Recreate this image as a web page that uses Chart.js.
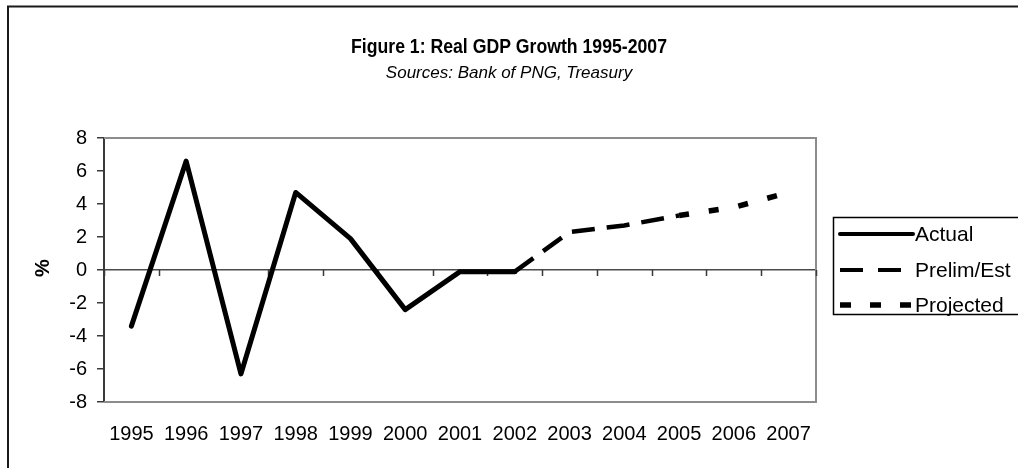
<!DOCTYPE html>
<html>
<head>
<meta charset="utf-8">
<script src="https://cdn.jsdelivr.net/npm/chart.js@4.4.1/dist/chart.umd.min.js"></script>
<style>
  html, body { margin: 0; padding: 0; background: #fff; }
  #wrap { width: 1018px; height: 468px; }
</style>
</head>
<body>
<div id="wrap"><canvas id="c" width="1018" height="468"></canvas></div>
<script>
// Real GDP growth, per cent
const years = ['1995', '1996', '1997', '1998', '1999', '2000', '2001', '2002', '2003', '2004', '2005', '2006', '2007'];
const actual = [-3.4, 6.6, -6.3, 4.7, 1.9, -2.4, -0.1, -0.1, null, null, null, null, null];
const prelimEst = [null, null, null, null, null, null, null, -0.1, 2.3, 2.7, 3.3, null, null];
const projected = [null, null, null, null, null, null, null, null, null, null, 3.3, 3.8, 4.7];
const yTickValues = [-8, -6, -4, -2, 0, 2, 4, 6, 8];

const titleText = 'Figure 1: Real GDP Growth 1995-2007';
const subtitleText = 'Sources: Bank of PNG, Treasury';
const FONT = '"Liberation Sans", Arial, sans-serif';

// Frame, headings, plot border, tick marks on the zero line and the legend box
const decorations = {
  id: 'decorations',
  beforeDatasetsDraw(chart) {
    const { ctx, chartArea: a, scales } = chart;
    ctx.save();
    // plot area outline (top, right, bottom)
    ctx.strokeStyle = '#8c8c8c';
    ctx.lineWidth = 2;
    ctx.beginPath();
    ctx.moveTo(a.left, a.top); ctx.lineTo(a.right, a.top);
    ctx.lineTo(a.right, a.bottom); ctx.lineTo(a.left, a.bottom);
    ctx.stroke();
    // category tick marks hanging from the zero line
    const y0 = scales.y.getPixelForValue(0);
    ctx.strokeStyle = '#3a3a3a';
    ctx.lineWidth = 1.5;
    ctx.beginPath();
    for (let i = 0; i <= years.length; i++) {
      const x = Math.round(scales.x.getPixelForValue(i - 0.5)) + 0.5;
      ctx.moveTo(x, y0); ctx.lineTo(x, y0 + 6);
    }
    ctx.stroke();
    ctx.restore();
  },
  afterDraw(chart) {
    const { ctx } = chart;
    ctx.save();
    // outer frame
    ctx.strokeStyle = '#1a1a1a';
    ctx.lineWidth = 2;
    ctx.strokeRect(8, 6.5, 1100, 600);

    // headings (the title face is set slightly condensed)
    ctx.fillStyle = '#000';
    ctx.textAlign = 'center';
    ctx.textBaseline = 'middle';
    ctx.font = 'bold 21px ' + FONT;
    const tw = ctx.measureText(titleText).width;
    const sx = Math.min(1, 316 / tw);
    ctx.save();
    ctx.translate(509, 47);
    ctx.scale(sx, 1);
    ctx.fillText(titleText, 0, 0);
    ctx.restore();
    ctx.font = 'italic 17px ' + FONT;
    ctx.fillText(subtitleText, 509, 73);

    // y axis title
    ctx.save();
    ctx.translate(43, 268);
    ctx.rotate(-Math.PI / 2);
    ctx.font = 'bold 20px ' + FONT;
    ctx.fillText('%', 0, 0);
    ctx.restore();

    // legend
    const box = { x: 833.5, y: 217.5, w: 300, h: 97 };
    ctx.fillStyle = '#fff';
    ctx.fillRect(box.x, box.y, box.w, box.h);
    ctx.strokeStyle = '#000';
    ctx.lineWidth = 1.5;
    ctx.strokeRect(box.x, box.y, box.w, box.h);
    const rows = [234, 270, 305];
    chart.data.datasets.forEach((ds, i) => {
      const y = rows[i];
      ctx.save();
      ctx.strokeStyle = ds.borderColor;
      ctx.lineWidth = ds.legendWidth || ds.borderWidth;
      ctx.lineCap = ds.borderCapStyle || 'butt';
      ctx.setLineDash(ds.legendDash || []);
      ctx.beginPath();
      ctx.moveTo(840, y); ctx.lineTo(913, y);
      ctx.stroke();
      ctx.restore();
      ctx.fillStyle = '#000';
      ctx.textAlign = 'left';
      ctx.textBaseline = 'middle';
      ctx.font = '21px ' + FONT;
      ctx.fillText(ds.label, 915, y + 1);
    });
    ctx.restore();
  }
};

new Chart(document.getElementById('c'), {
  type: 'line',
  data: {
    labels: years,
    datasets: [
      { label: 'Actual', data: actual, borderColor: '#000', borderWidth: 5, legendWidth: 4,
        borderJoinStyle: 'round', borderCapStyle: 'round', pointRadius: 0, tension: 0, spanGaps: false },
      { label: 'Prelim/Est', data: prelimEst, borderColor: '#000', borderWidth: 4.5, legendWidth: 4,
        borderDash: [23, 12], legendDash: [23, 15], borderCapStyle: 'butt', pointRadius: 0, tension: 0, spanGaps: false },
      { label: 'Projected', data: projected, borderColor: '#000', borderWidth: 5.5, legendWidth: 5.5,
        borderDash: [10, 20], legendDash: [11, 19], borderCapStyle: 'butt', pointRadius: 0, tension: 0, spanGaps: false }
    ]
  },
  options: {
    responsive: false,
    animation: false,
    devicePixelRatio: 1,
    layout: { padding: { top: 138, right: 202, left: 0, bottom: 0 } },
    plugins: {
      legend: { display: false },
      title: { display: false },
      tooltip: { enabled: false }
    },
    scales: {
      x: {
        type: 'category',
        offset: true,
        grid: { display: false, drawTicks: false },
        border: { display: false },
        ticks: { color: '#000', font: { family: FONT, size: 20 }, padding: 20, maxRotation: 0, autoSkip: false },
        afterFit(scale) { scale.height = 66; }
      },
      y: {
        min: -8,
        max: 8,
        afterBuildTicks(scale) { scale.ticks = yTickValues.map(v => ({ value: v })); },
        grid: {
          drawOnChartArea: true,
          color: (c) => (c.tick && c.tick.value === 0 ? '#4a4a4a' : 'rgba(0,0,0,0)'),
          lineWidth: 1.5,
          tickColor: '#3a3a3a',
          tickLength: 7
        },
        border: { display: true, color: '#3a3a3a', width: 2 },
        ticks: { color: '#000', font: { family: FONT, size: 20 }, padding: 10 },
        afterFit(scale) { scale.width = 104; }
      }
    }
  },
  plugins: [decorations]
});
</script>
</body>
</html>
